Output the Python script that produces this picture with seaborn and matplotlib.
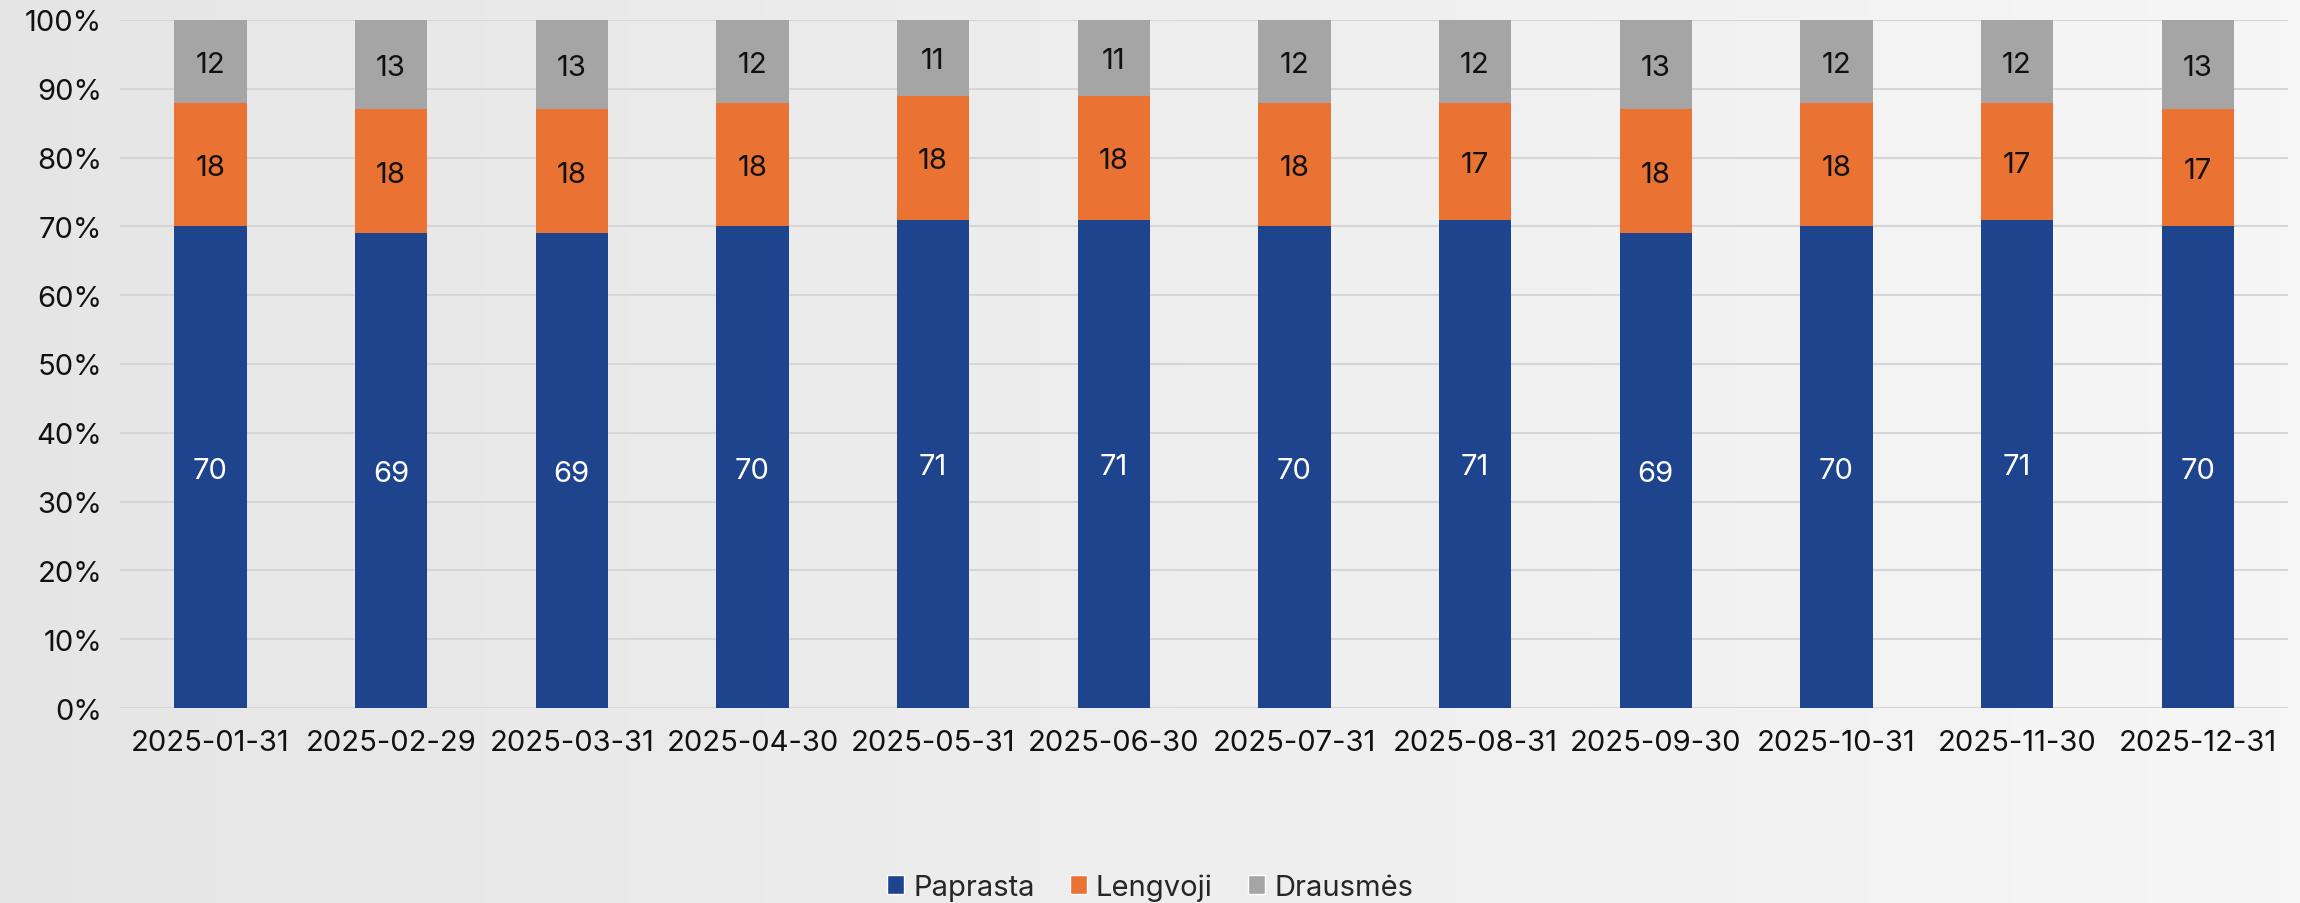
import numpy as np
import pandas as pd
import matplotlib
matplotlib.use('Agg')
import matplotlib.pyplot as plt
from matplotlib.patches import Patch
import seaborn as sns

# Data (shares in %)
dates = ['2025-01-31', '2025-02-29', '2025-03-31', '2025-04-30', '2025-05-31', '2025-06-30',
         '2025-07-31', '2025-08-31', '2025-09-30', '2025-10-31', '2025-11-30', '2025-12-31']
paprasta = [70, 69, 69, 70, 71, 71, 70, 71, 69, 70, 71, 70]
lengvoji = [18, 18, 18, 18, 18, 18, 18, 17, 18, 18, 17, 17]
drausmes = [12, 13, 13, 12, 11, 11, 12, 12, 13, 12, 12, 13]
series_names = ['Paprasta', 'Lengvoji', 'Drausmės']
colors = ['#1F448E', '#EA7233', '#A5A5A5']

sns.set_theme(style='white')
plt.rcParams['font.family'] = ['Inter', 'DejaVu Sans']

df = pd.DataFrame({'date': dates, 'Paprasta': paprasta,
                   'Lengvoji': lengvoji, 'Drausmės': drausmes})
df['top1'] = df['Paprasta']
df['top2'] = df['Paprasta'] + df['Lengvoji']
df['top3'] = df['top2'] + df['Drausmės']

fig = plt.figure(figsize=(23, 9.04), dpi=100)

# soft grey gradient background
bg = fig.add_axes([0, 0, 1, 1], zorder=-10)
grad = np.linspace(0.90, 0.965, 256)[None, :]
bg.imshow(np.dstack([grad, grad, grad]), aspect='auto', extent=[0, 1, 0, 1])
bg.axis('off')

ax = fig.add_axes([0.0522, 0.2157, 0.9426, 0.7611])
ax.set_facecolor('none')

# stacked bars: draw cumulative totals from the top down
for col, c in zip(['top3', 'top2', 'top1'], colors[::-1]):
    sns.barplot(data=df, x='date', y=col, color=c, width=0.4,
                saturation=1, linewidth=0, ax=ax, zorder=3)

ax.set_xlim(-0.5, len(dates) - 0.5)
ax.set_ylim(0, 100)
ax.set_yticks(range(0, 101, 10))
ax.set_yticklabels([f'{v}%' for v in range(0, 101, 10)])
ax.grid(axis='y', color='#D6D6D6', linewidth=1.5, zorder=0)
ax.set_axisbelow(True)
for s in ax.spines.values():
    s.set_visible(False)
ax.set_xlabel('')
ax.set_ylabel('')
ax.tick_params(axis='x', labelsize=21, pad=15, length=0, colors='#111111')
ax.tick_params(axis='y', labelsize=21, pad=13, length=0, colors='#111111')

# value labels in the middle of each segment
for i, row in df.iterrows():
    ax.text(i, row['Paprasta'] / 2, str(row['Paprasta']), ha='center', va='center_baseline',
            fontsize=21, color='white', zorder=5)
    ax.text(i, row['Paprasta'] + row['Lengvoji'] / 2, str(row['Lengvoji']),
            ha='center', va='center_baseline', fontsize=21, color='#111111', zorder=5)
    ax.text(i, row['top2'] + row['Drausmės'] / 2, str(row['Drausmės']),
            ha='center', va='center_baseline', fontsize=21, color='#111111', zorder=5)

handles = [Patch(facecolor=c, label=n) for n, c in zip(series_names, colors)]
fig.legend(handles=handles, loc='center', bbox_to_anchor=(0.5, 1 - 888 / 904),
           ncol=3, frameon=False, fontsize=21, handlelength=0.6, handleheight=0.6,
           handletextpad=0.3, columnspacing=1.2)

fig.savefig('out.png', dpi=100)
